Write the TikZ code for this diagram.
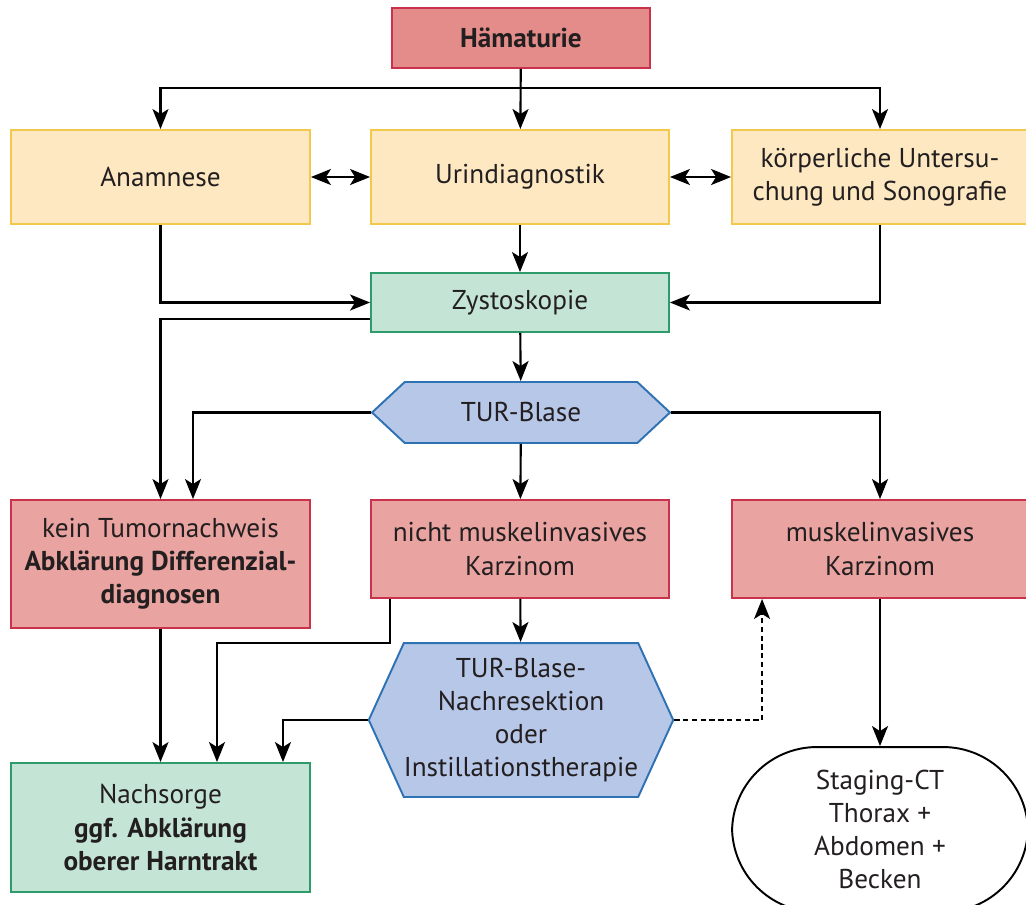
\documentclass[tikz,border=0pt]{standalone}
\usepackage{fontspec}
\setmainfont{PT Sans}
\usetikzlibrary{arrows.meta}
\usetikzlibrary{shapes.symbols}
\definecolor{mred}{HTML}{C9314C}
\definecolor{mredfill}{HTML}{E9A3A0}
\definecolor{mredtop}{HTML}{E48C8A}
\definecolor{myellow}{HTML}{F2C94C}
\definecolor{myellowfill}{HTML}{FDE8C2}
\definecolor{mgreen}{HTML}{2E9B6B}
\definecolor{mgreenfill}{HTML}{C4E5D5}
\definecolor{mblue}{HTML}{2F72B3}
\definecolor{mbluefill}{HTML}{B7C7E8}
\definecolor{mtext}{HTML}{231F20}
\tikzset{box/.style = {draw, line width=1.1pt, align=center, inner sep=0, text=mtext,
                       font=\fontsize{15.5}{18.8}\selectfont}}
\tikzset{redbox/.style = {box, draw=mred, fill=mredfill}}
\tikzset{yellowbox/.style = {box, draw=myellow, fill=myellowfill}}
\tikzset{greenbox/.style = {box, draw=mgreen, fill=mgreenfill}}
\tikzset{hexa/.style = {box, shape=signal, signal to=west and east, draw=mblue, fill=mbluefill}}
\tikzset{arr/.style = {line width=1.2pt, -{Stealth[length=4mm, width=3.2mm, inset=1mm]}}}
\tikzset{darr/.style = {line width=1.2pt, {Stealth[length=4mm, width=3.2mm, inset=1mm]}-{Stealth[length=4mm, width=3.2mm, inset=1mm]}}}

\begin{document}
\begin{tikzpicture}[x=0.02cm, y=-0.02cm]
    \useasboundingbox (0,0) rectangle (1026,904);

    \node [redbox, fill=mredtop, minimum width=5.16cm, minimum height=1.2cm] (haem) at (521,38) {\textbf{Hämaturie}};

    \node [yellowbox, minimum width=5.98cm, minimum height=1.88cm] (anam) at (160.5,177) {Anamnese};
    \node [yellowbox, minimum width=5.96cm, minimum height=1.88cm] (urin) at (520,177) {Urindiagnostik};
    \node [yellowbox, minimum width=5.92cm, minimum height=1.88cm] (koerp) at (880,177) {körperliche Untersu-\\chung und Sonografie};

    \node [greenbox, minimum width=5.96cm, minimum height=1.18cm] (zysto) at (520,302.5) {Zystoskopie};
    \node [hexa, minimum width=5.96cm, minimum height=1.22cm, signal pointer angle=86] (tur) at (521,412.5) {TUR-Blase};

    \node [redbox, minimum width=5.98cm, minimum height=2.56cm] (kein) at (160.5,564) {kein Tumornachweis\\\textbf{Abklärung Differenzial-}\\\textbf{diagnosen}};
    \node [redbox, minimum width=5.96cm, minimum height=1.96cm] (nicht) at (520,549) {nicht muskelinvasives\\Karzinom};
    \node [redbox, minimum width=5.92cm, minimum height=1.96cm] (muskel) at (880,549) {muskelinvasives\\Karzinom};

    \node [hexa, minimum width=5.96cm, minimum height=3.08cm, signal pointer angle=131] (nach) at (521,720) {TUR-Blase-\\Nachresektion\\oder\\Instillationstherapie};
    \node [greenbox, minimum width=5.98cm, minimum height=2.58cm] (nachs) at (160.5,827.5) {Nachsorge\\\textbf{ggf. Abklärung}\\\textbf{oberer Harntrakt}};
    \node [box, fill=white, draw=black, rounded corners=1.7cm, minimum width=5.92cm, minimum height=3.3cm] (staging) at (880,829.5) {Staging-CT\\Thorax +\\Abdomen +\\Becken};

    \coordinate (split) at (521,88);
    \coordinate (nbend) at (217,643);

    \draw [arr] (haem) -- (urin);
    \draw [arr] (split) -| (anam);
    \draw [arr] (split) -| (koerp);
    \draw [darr] (anam) -- (urin);
    \draw [darr] (urin) -- (koerp);
    \draw [arr] (anam) |- (zysto);
    \draw [arr] (koerp) |- (zysto);
    \draw [arr] (urin) -- (zysto);
    \draw [arr] (zysto) -- (tur);
    \draw [arr] ([yshift=0.28cm]zysto.south west) -| (kein);
    \draw [arr] (tur.west) -| ([xshift=0.65cm]kein.north);
    \draw [arr] (tur.east) -| (muskel);
    \draw [arr] (tur) -- (nicht);
    \draw [arr] (nicht) -- (nach);
    \draw [arr] (kein) -- (nachs);
    \draw [arr] ([xshift=0.4cm]nicht.south west) |- (nbend) -- (nbend |- nachs.north);
    \draw [arr] (nach.west) -| ([xshift=2.45cm]nachs.north);
    \draw [arr, densely dashed] (nach.east) -| ([xshift=0.62cm]muskel.south west);
    \draw [arr] (muskel) -- (staging);
\end{tikzpicture}
\end{document}
